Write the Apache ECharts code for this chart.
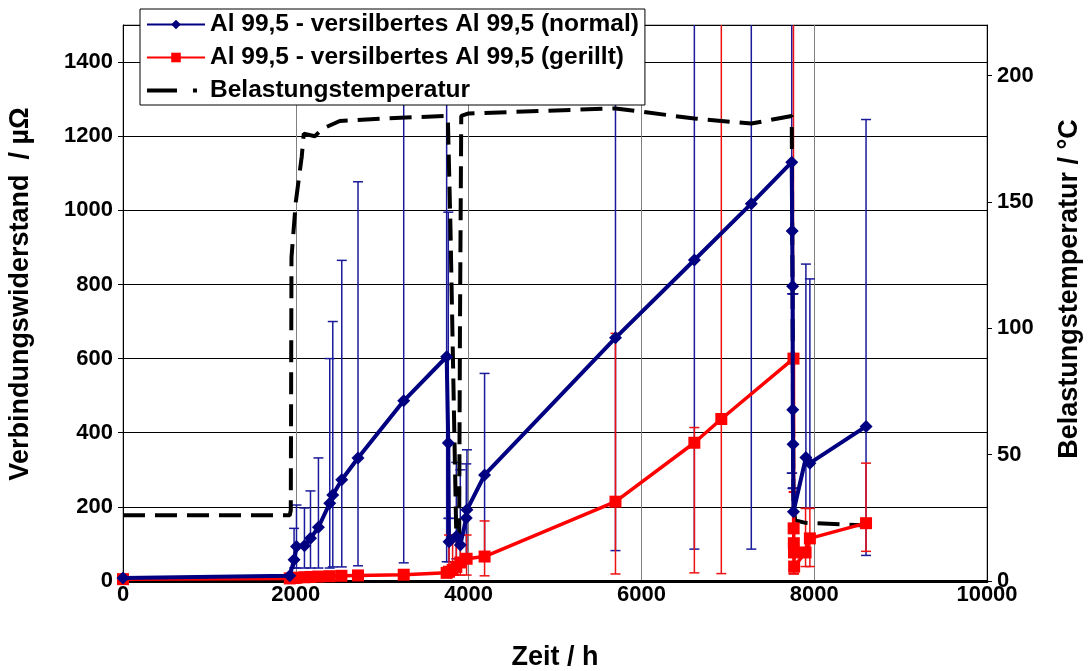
<!DOCTYPE html>
<html><head><meta charset="utf-8">
<script src="https://cdn.jsdelivr.net/npm/echarts@6/dist/echarts.min.js"></script>
<style>html,body{margin:0;padding:0;background:#fff}#c{width:1090px;height:671px}</style>
</head><body><div id="c"></div>
<script>
// ---- data ----
const xTicks = [0, 2000, 4000, 6000, 8000, 10000];
const normalX = [0, 1930, 1980, 2008, 2100, 2170, 2262, 2393, 2428, 2532, 2720, 3249, 3746, 3765, 3773, 3858, 3904, 3973, 3981, 4185, 5700, 6613, 7272, 7740, 7745, 7750, 7752, 7755, 7760, 7904, 7950, 8600];
const normalY = [8, 14, 57, 93, 95, 115, 145, 210, 232, 273, 332, 486, 605, 372, 106, 120, 97, 170, 192, 286, 656, 866, 1018, 1130, 944, 795, 462, 369, 187, 333, 318, 417];
const normalLo = [null, null, 35, 35, 35, 35, 35, 35, 38, 38, 41, 49, 52, 169, 52, 60, 60, 60, 60, 55, 82, 86, 86, 291, 291, 250, 250, 250, 250, 196, 196, 69];
const normalHi = [null, null, 142, 205, 197, 243, 332, 600, 700, 865, 1077, 1700, 1700, 995, 169, 320, 300, 316, 354, 560, 1700, 1700, 1700, 1700, 775, 775, 775, 775, 775, 855, 815, 1245];

const gerilltX = [0, 1930, 1980, 2008, 2100, 2170, 2262, 2393, 2528, 2720, 3249, 3746, 3773, 3815, 3858, 3904, 3977, 4185, 5700, 6613, 6925, 7760, 7762, 7764, 7766, 7768, 7900, 7950, 8600];
const gerilltY = [5, 7, 8, 9, 10, 11, 12, 13, 14, 15, 17, 22, 25, 30, 38, 50, 60, 66, 214, 373, 437, 600, 142, 102, 77, 39, 77, 115, 156];
const gerilltLo = [null, null, null, null, null, null, null, null, null, null, null, null, 16, 16, 16, 16, 16, 14, 19, 22, 20, 20, 20, 20, 20, 20, 39, 39, 80];
const gerilltHi = [null, null, null, null, null, null, null, null, null, null, null, null, 124, 124, 124, 124, 124, 162, 668, 414, 1700, 1700, 240, 240, 240, 240, 196, 196, 318];

const tempX = [0, 1930, 1942, 1950, 2000, 2069, 2092, 2220, 2312, 2509, 3000, 3746, 3760, 3790, 3858, 3890, 3900, 3915, 4000, 5700, 6613, 7272, 7740, 7760, 7780, 7900, 8600];
const tempY = [26, 26, 28, 128, 150, 168, 177, 176, 179, 182, 183, 184, 183, 140, 17, 17, 100, 184, 185, 187, 183, 181, 184, 30, 24, 23, 22];

const names = ['Al 99,5 - versilbertes Al 99,5 (normal)', 'Al 99,5 - versilbertes Al 99,5 (gerillt)', 'Belastungstemperatur'];

// ---- build ----
const zip = (a, b) => a.map((v, i) => [v, b[i]]);
function errData(xs, lo, hi) {
  const out = [];
  xs.forEach((x, i) => { if (lo[i] != null && hi[i] != null) out.push([x, lo[i], hi[i]]); });
  return out;
}
function errRender(color) {
  return function (params, api) {
    const x = api.value(0), lo = api.value(1), hi = api.value(2);
    const a = api.coord([x, lo]), b = api.coord([x, hi]);
    const hw = 5;
    const st = { stroke: color, lineWidth: 1.5 };
    return { type: 'group', children: [
      { type: 'line', shape: { x1: a[0], y1: a[1], x2: b[0], y2: b[1] }, style: st },
      { type: 'line', shape: { x1: a[0] - hw, y1: a[1], x2: a[0] + hw, y2: a[1] }, style: st },
      { type: 'line', shape: { x1: b[0] - hw, y1: b[1], x2: b[0] + hw, y2: b[1] }, style: st }
    ]};
  };
}
const FONT = 'Liberation Sans';
const tick = { fontFamily: FONT, fontWeight: 'bold', fontSize: 22, color: '#000' };
const ttl = { fontFamily: FONT, fontWeight: 'bold', fontSize: 27, color: '#000' };
const ttlL = Object.assign({ padding: [0, 0, 0, 18] }, ttl);
const ttlR = Object.assign({ padding: [0, 0, 0, 28] }, ttl);
const plain = v => String(v);

const chart = echarts.init(document.getElementById('c'), null, { renderer: 'canvas' });
chart.setOption({
  animation: false,
  backgroundColor: '#fff',
  grid: { left: 123, right: 103, top: 25, bottom: 90, show: true, borderColor: '#808080', borderWidth: 1,
          containLabel: false, outerBoundsMode: 'none' },
  legend: {
    orient: 'vertical', left: 140, top: 9, itemWidth: 58, itemHeight: 12, itemGap: 8,
    backgroundColor: '#fff', borderColor: '#000', borderWidth: 1, padding: [3, 6, 2, 6],
    textStyle: { fontFamily: FONT, fontWeight: 'bold', fontSize: 24.5, color: '#000' },
    data: [names[0], names[1], { name: names[2], icon: 'path://M0,4L30,4L30,8L0,8Z M46,4L50,4L50,8L46,8Z M0,0L58,0L58,0.01L0,0.01Z M0,12L58,12L58,12.01L0,12.01Z' }]
  },
  xAxis: {
    type: 'value', min: xTicks[0], max: xTicks[xTicks.length - 1], interval: 2000,
    name: 'Zeit / h', nameLocation: 'middle', nameGap: 63, nameTextStyle: ttl,
    axisLine: { lineStyle: { color: '#000', width: 3 } },
    axisTick: { show: false },
    axisLabel: Object.assign({ margin: 3, formatter: plain }, tick),
    splitLine: { show: true, lineStyle: { color: '#808080', width: 1 } }
  },
  yAxis: [{
    type: 'value', min: 0, max: 1500, interval: 200,
    name: 'Verbindungswiderstand  / µΩ', nameLocation: 'middle', nameGap: 89, nameTextStyle: ttlL,
    axisLine: { show: true, lineStyle: { color: '#000', width: 1 } },
    axisTick: { show: true, length: 5, lineStyle: { color: '#000' } },
    axisLabel: Object.assign({ margin: 10, showMaxLabel: false, formatter: plain }, tick),
    splitLine: { show: true, lineStyle: { color: '#000', width: 1 } }
  }, {
    type: 'value', min: 0, max: 220, interval: 50, position: 'right',
    name: 'Belastungstemperatur / °C', nameLocation: 'middle', nameGap: 69, nameRotate: 90, nameTextStyle: ttlR,
    axisLine: { show: true, lineStyle: { color: '#000', width: 1 } },
    axisTick: { show: true, length: 5, lineStyle: { color: '#000' } },
    axisLabel: Object.assign({ margin: 10, showMaxLabel: false, formatter: plain }, tick),
    splitLine: { show: false }
  }],
  series: [
    { type: 'custom', name: 'errN', renderItem: errRender('#1a1a9a'), data: errData(normalX, normalLo, normalHi), clip: true, z: 1, encode: { x: 0, y: [1, 2] }, silent: true },
    { type: 'custom', name: 'errG', renderItem: errRender('#ee1111'), data: errData(gerilltX, gerilltLo, gerilltHi), clip: true, z: 1, encode: { x: 0, y: [1, 2] }, silent: true },
    { type: 'line', name: names[2], yAxisIndex: 1, data: zip(tempX, tempY), showSymbol: false, symbol: 'none',
      lineStyle: { color: '#000', width: 4, type: [22, 10] }, itemStyle: { color: '#000' }, z: 2 },
    { type: 'line', name: names[1], data: zip(gerilltX, gerilltY), symbol: 'rect', symbolSize: 12,
      lineStyle: { color: '#ff0000', width: 3.5 }, itemStyle: { color: '#ff0000' }, z: 3 },
    { type: 'line', name: names[0], data: zip(normalX, normalY), symbol: 'diamond', symbolSize: 13,
      lineStyle: { color: '#000080', width: 4 }, itemStyle: { color: '#000080' }, z: 4 }
  ]
});
</script></body></html>
